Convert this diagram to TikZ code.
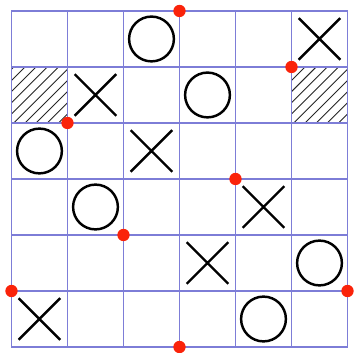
\documentclass[tikz,border=0pt]{standalone}
\usepackage{xcolor}
\usepackage{tikz}
\usetikzlibrary{shapes.misc}

\definecolor{gridblue}{RGB}{125,125,215}
\definecolor{dotred}{RGB}{250,35,10}

\begin{document}
\begin{tikzpicture}[
    gridline/.style={draw=gridblue, line width=0.6pt},
    hatch/.style={draw=black!85, line width=0.45pt},
    omark/.style={circle, draw=black, line width=1.25pt,
                  minimum size=0.8cm, inner sep=0pt},
    xmark/.style={cross out, draw=black, line width=1.25pt,
                  minimum size=0.7cm, inner sep=0pt},
    rdot/.style={circle, fill=dotred, minimum size=0.22cm, inner sep=0pt}
]
\useasboundingbox (-0.205,-0.107) rectangle (6.116,6.196);

% hatched cells
\foreach \a/\b in {0/4, 5/4} {
  \begin{scope}
    \clip (\a,\b) rectangle ++(1,1);
    \foreach \k in {0,...,9}
      \draw[hatch] (\a+0.04+0.2*\k-1.5,\b-0.5) -- ++(3,3);
  \end{scope}
}

% board
\draw[gridline] (0,0) grid (6,6);

% marks
\foreach \p [count=\i] in {{2.5,5.5},{3.5,4.5},{0.5,3.5},{1.5,2.5},{5.5,1.5},{4.5,0.5}}
  \node[omark] (o\i) at (\p) {};
\foreach \p [count=\i] in {{5.5,5.5},{1.5,4.5},{2.5,3.5},{4.5,2.5},{3.5,1.5},{0.5,0.5}}
  \node[xmark] (x\i) at (\p) {};

% red points
\foreach \p [count=\i] in {{3,6},{5,5},{1,4},{4,3},{2,2},{0,1},{6,1},{3,0}}
  \node[rdot] (d\i) at (\p) {};
\end{tikzpicture}
\end{document}
